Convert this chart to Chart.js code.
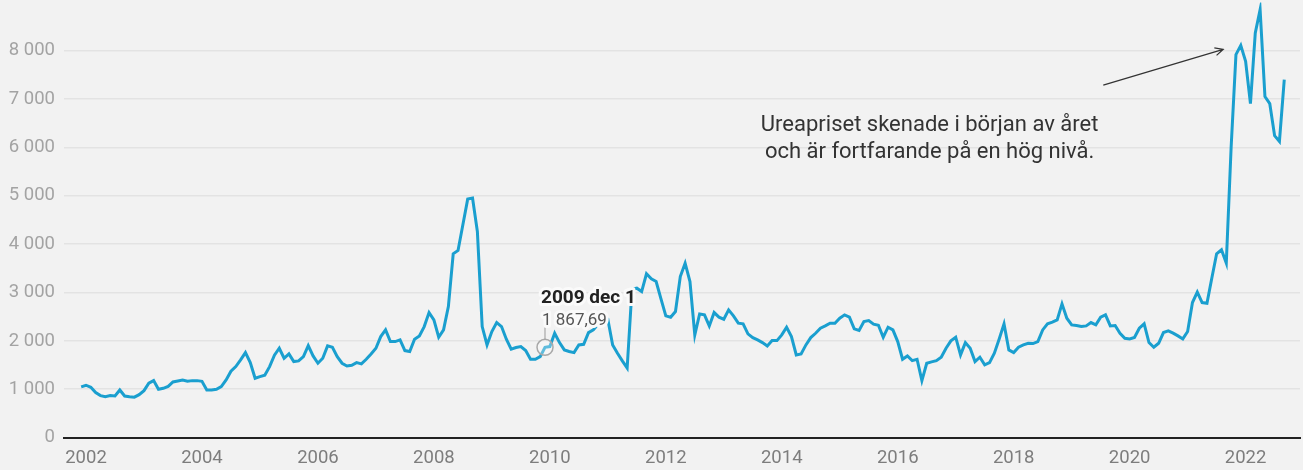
<!DOCTYPE html>
<html lang="sv">
<head>
<meta charset="utf-8">
<title>Ureapriset</title>
<script src="https://cdn.jsdelivr.net/npm/chart.js@4/dist/chart.umd.min.js"></script>
<style>
  html, body { margin: 0; padding: 0; background: #f2f2f2; }
  #wrap { width: 1303px; height: 470px; }
</style>
</head>
<body>
<div id="wrap"><canvas id="ureaChart" width="1303" height="470"></canvas></div>
<script>
// Serien börjar december 2001, en punkt per månad
const firstYear = 2001;
const firstMonth = 11; // 0 = januari

const monthNames = ['jan', 'feb', 'mar', 'apr', 'maj', 'jun', 'jul', 'aug', 'sep', 'okt', 'nov', 'dec'];

// Ureapris per månad (dec 2001 - sep 2022)
const prices = [
  1050,
  1083, 1040, 930, 868, 847, 869, 860, 985, 860, 843, 837, 888,
  971, 1124, 1178, 1000, 1020, 1060, 1150, 1170, 1192, 1165, 1178, 1178,
  1165, 985, 985, 1000, 1054, 1192, 1372, 1468, 1606, 1758, 1551, 1227,
  1261, 1290, 1468, 1703, 1848, 1641, 1731, 1572, 1586, 1675, 1903, 1689,
  1538, 1641, 1896, 1868, 1675, 1538, 1482, 1496, 1551, 1524, 1620, 1731,
  1848, 2089, 2227, 1985, 1985, 2020, 1800, 1780, 2035, 2103, 2296, 2586,
  2434, 2076, 2227, 2710, 3801, 3870, 4401, 4932, 4953, 4262, 2296, 1917,
  2192, 2378, 2296, 2035, 1827, 1862, 1882, 1800, 1620, 1620, 1675, 1867.69,
  1882, 2158, 1965, 1813, 1780, 1758, 1917, 1930, 2172, 2227, 2350, 2450,
  2450, 1917, 1745, 1586, 1440, 3070, 3090, 3020, 3387, 3283, 3228, 2870,
  2517, 2490, 2607, 3331, 3607, 3228, 2124, 2558, 2538, 2310, 2586, 2490,
  2448, 2641, 2517, 2366, 2352, 2145, 2068, 2020, 1965, 1896, 2006, 2006,
  2124, 2283, 2089, 1710, 1731, 1917, 2068, 2158, 2262, 2310, 2366, 2366,
  2469, 2538, 2490, 2248, 2214, 2400, 2421, 2345, 2324, 2076, 2283, 2228,
  1986, 1620, 1689, 1592, 1620, 1178, 1537, 1565, 1592, 1662, 1848, 2000,
  2076, 1710, 1965, 1848, 1572, 1662, 1503, 1550, 1745, 2040, 2352, 1813,
  1758, 1869, 1917, 1951, 1944, 1986, 2227, 2352, 2386, 2434, 2766, 2469,
  2331, 2317, 2296, 2310, 2379, 2331, 2490, 2538, 2310, 2317, 2159, 2055,
  2041, 2069, 2262, 2352, 1965, 1869, 1951, 2172, 2207, 2159, 2103, 2041,
  2193, 2793, 3008, 2793, 2779, 3297, 3801, 3883, 3608, 6000, 7920, 8112,
  7781, 6906, 8369, 8851, 7052, 6906, 6244, 6125, 7402
];

const yearTicks = [2002, 2004, 2006, 2008, 2010, 2012, 2014, 2016, 2018, 2020, 2022];
const valueTicks = [0, 1000, 2000, 3000, 4000, 5000, 6000, 7000, 8000];

const noteLines = ['Ureapriset skenade i början av året', 'och är fortfarande på en hög nivå.'];
const highlightIndex = 96; // december 2009

// Bygg punkter (x = decimalår)
const points = prices.map(function(v, i) {
    return { x: firstYear + (firstMonth + i) / 12, y: v };
});

// Svensk talformatering: 1 867,69
function formatNumber(v, decimals) {
    const parts = v.toFixed(decimals).split('.');
    const whole = parts[0].replace(/\B(?=(\d{3})+(?!\d))/g, ' ');
    return parts.length > 1 ? whole + ',' + parts[1] : whole;
}

function dateLabel(i) {
    const m = firstMonth + i;
    const year = firstYear + Math.floor(m / 12);
    return year + ' ' + monthNames[m % 12] + ' 1';
}

// Bakgrund
const background = {
    id: 'background',
    beforeDraw(chart) {
        const ctx = chart.ctx;
        ctx.save();
        ctx.fillStyle = '#f2f2f2';
        ctx.fillRect(0, 0, chart.width, chart.height);
        ctx.restore();
    }
};

// Kommentar, pil och markerad punkt
const annotations = {
    id: 'annotations',
    afterDatasetsDraw(chart) {
        const ctx = chart.ctx;
        const x = chart.scales.x;
        const y = chart.scales.y;
        ctx.save();

        // Kommentartext
        ctx.font = '22px Roboto';
        ctx.fillStyle = '#333333';
        ctx.textAlign = 'center';
        ctx.textBaseline = 'alphabetic';
        const cx = x.getPixelForValue(2016.55);
        ctx.fillText(noteLines[0], cx, y.getPixelForValue(6340));
        ctx.fillText(noteLines[1], cx, y.getPixelForValue(5780));

        // Pil
        const x1 = x.getPixelForValue(2019.545), y1 = y.getPixelForValue(7290);
        const x2 = x.getPixelForValue(2021.614), y2 = y.getPixelForValue(8030);
        ctx.strokeStyle = '#333333';
        ctx.lineWidth = 1.2;
        ctx.beginPath();
        ctx.moveTo(x1, y1);
        ctx.lineTo(x2, y2);
        const ang = Math.atan2(y2 - y1, x2 - x1);
        const head = 9;
        ctx.moveTo(x2 - head * Math.cos(ang - 0.45), y2 - head * Math.sin(ang - 0.45));
        ctx.lineTo(x2, y2);
        ctx.lineTo(x2 - head * Math.cos(ang + 0.45), y2 - head * Math.sin(ang + 0.45));
        ctx.stroke();

        // Markerad punkt (dec 2009)
        const pt = chart.getDatasetMeta(0).data[highlightIndex];
        ctx.beginPath();
        ctx.arc(pt.x, pt.y, 8, 0, Math.PI * 2);
        ctx.fillStyle = 'rgba(255,255,255,0.3)';
        ctx.fill();
        ctx.strokeStyle = '#a8a8a8';
        ctx.lineWidth = 1.5;
        ctx.stroke();

        ctx.beginPath();
        ctx.moveTo(pt.x, pt.y - 8);
        ctx.lineTo(pt.x, pt.y - 20);
        ctx.strokeStyle = '#999999';
        ctx.lineWidth = 1;
        ctx.stroke();

        ctx.textAlign = 'left';
        ctx.lineJoin = 'round';
        ctx.strokeStyle = '#fafafa';
        ctx.lineWidth = 6;

        ctx.font = 'bold 19px Roboto';
        const title = dateLabel(highlightIndex);
        ctx.strokeText(title, pt.x - 4, pt.y - 44);
        ctx.fillStyle = '#222222';
        ctx.fillText(title, pt.x - 4, pt.y - 44);

        ctx.font = '17px Roboto';
        const val = formatNumber(prices[highlightIndex], 2);
        ctx.strokeText(val, pt.x - 3, pt.y - 22);
        ctx.fillStyle = '#555555';
        ctx.fillText(val, pt.x - 3, pt.y - 22);

        ctx.restore();
    }
};

document.addEventListener('DOMContentLoaded', function() {
    const ctx = document.getElementById('ureaChart').getContext('2d');
    new Chart(ctx, {
        type: 'line',
        data: {
            datasets: [{
                data: points,
                borderColor: '#1a9fcf',
                borderWidth: 3,
                pointRadius: 0,
                tension: 0,
                fill: false
            }]
        },
        options: {
            responsive: false,
            animation: false,
            devicePixelRatio: 1,
            layout: { padding: { top: 2.4, right: 3, left: 0, bottom: 0 } },
            plugins: {
                legend: { display: false },
                tooltip: { enabled: false }
            },
            scales: {
                x: {
                    type: 'linear',
                    min: 2001.6206,
                    max: 2022.938,
                    afterBuildTicks: function(scale) {
                        scale.ticks = yearTicks.map(v => ({ value: v }));
                    },
                    afterFit: function(scale) {
                        scale.height = 32.4;
                        scale.paddingLeft = 0;
                        scale.paddingRight = 0;
                    },
                    grid: { display: false, drawTicks: false },
                    border: { display: true, color: '#222222', width: 2 },
                    ticks: {
                        autoSkip: false,
                        maxRotation: 0,
                        padding: 10,
                        color: '#7d7d7d',
                        font: { family: 'Roboto', size: 18.5 },
                        callback: function(value) { return String(value); }
                    }
                },
                y: {
                    min: 0,
                    max: 9000,
                    afterBuildTicks: function(scale) {
                        scale.ticks = valueTicks.map(v => ({ value: v }));
                    },
                    afterFit: function(scale) {
                        scale.width = 64;
                        scale.paddingTop = 0;
                        scale.paddingBottom = 0;
                    },
                    grid: { color: '#e3e3e3', lineWidth: 1.5, drawTicks: false },
                    border: { display: false },
                    ticks: {
                        padding: 9,
                        color: '#a3a3a3',
                        font: { family: 'Roboto', size: 18.5 },
                        callback: function(value) { return formatNumber(value, 0); }
                    }
                }
            }
        },
        plugins: [background, annotations]
    });
});
</script>
</body>
</html>
